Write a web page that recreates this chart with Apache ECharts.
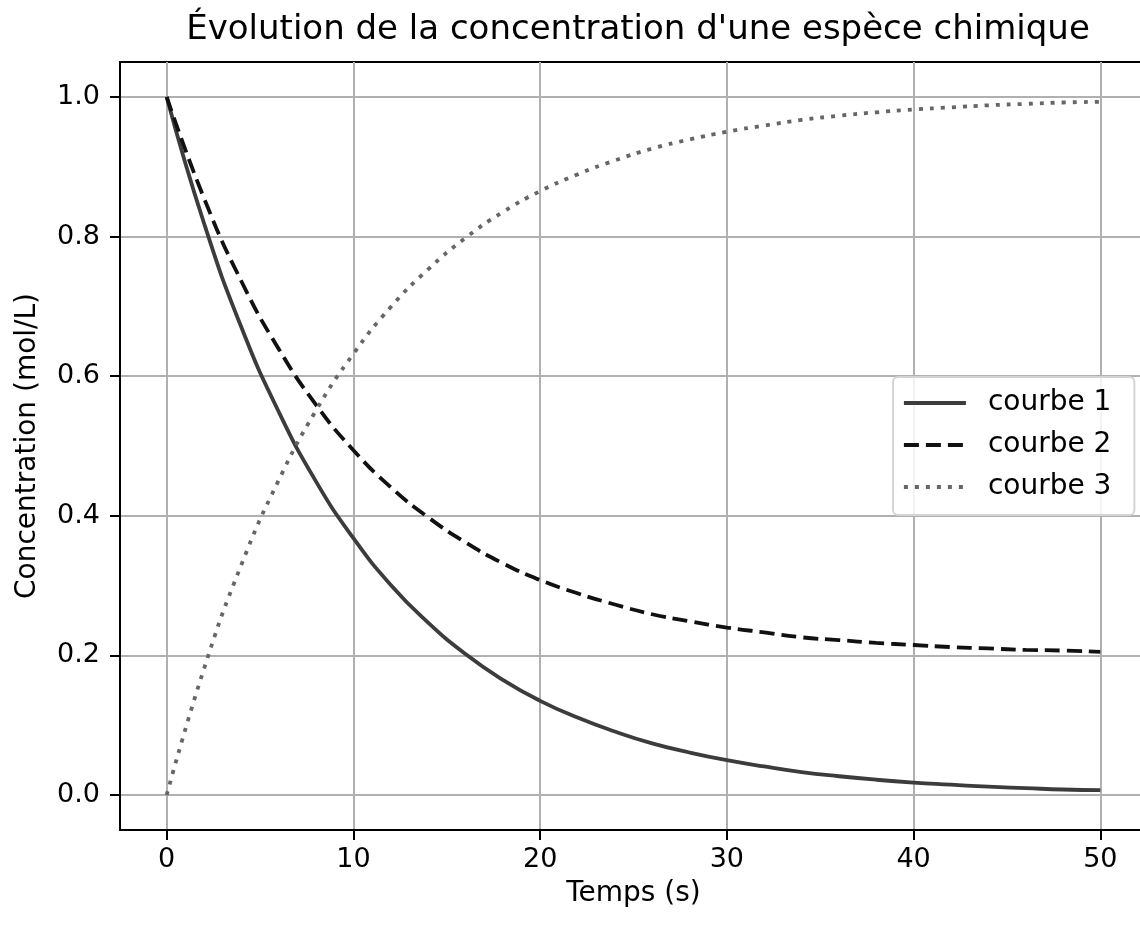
<!DOCTYPE html>
<html>
<head>
<meta charset="utf-8">
<script src="https://cdn.jsdelivr.net/npm/echarts@6/dist/echarts.min.js"></script>
<style>
  html, body { margin: 0; padding: 0; background: #fff; }
  #chart { width: 1140px; height: 925px; }
</style>
</head>
<body>
<div id="chart"></div>
<script>
// temps (s)
const temps = [0, 2, 4, 6, 8, 10, 12, 14, 16, 18, 20, 22, 24, 26, 28, 30, 32, 34, 36, 38, 40, 42, 44, 46, 48, 50]
// valeurs
const courbe1 = [1.0, 0.819, 0.670, 0.549, 0.449, 0.368, 0.301, 0.247, 0.202, 0.165, 0.135, 0.111, 0.091, 0.074, 0.061, 0.050, 0.041, 0.033, 0.027, 0.022, 0.018, 0.015, 0.012, 0.010, 0.008, 0.007]
const courbe2 = [1.0, 0.855, 0.736, 0.639, 0.559, 0.494, 0.441, 0.398, 0.362, 0.332, 0.308, 0.289, 0.273, 0.259, 0.249, 0.240, 0.233, 0.226, 0.222, 0.218, 0.215, 0.212, 0.210, 0.208, 0.207, 0.205]
const courbe3 = [0.0, 0.181, 0.330, 0.451, 0.551, 0.632, 0.699, 0.753, 0.798, 0.835, 0.865, 0.889, 0.909, 0.926, 0.939, 0.950, 0.959, 0.967, 0.973, 0.978, 0.982, 0.985, 0.988, 0.990, 0.992, 0.993]
const xTicks = [0, 10, 20, 30, 40, 50]
const yTicks = [0, 0.2, 0.4, 0.6, 0.8, 1.0]

const font = 'DejaVu Sans'
const fs = 28

const pairs = (ys) => temps.map((t, i) => [t, ys[i]])

const chart = echarts.init(document.getElementById('chart'))

const lineSerie = (name, ys, color, type) => ({
  name: name,
  type: 'line',
  data: pairs(ys),
  smooth: true,
  symbol: 'none',
  lineStyle: { color: color, width: 3.8, type: type },
  itemStyle: { color: color },
  z: 3,
})

chart.setOption({
  animation: false,
  backgroundColor: '#fff',
  title: {
    text: "Évolution de la concentration d'une espèce chimique",
    left: 633,
    top: 8,
    textAlign: 'center',
    textStyle: { fontFamily: font, fontSize: 34, fontWeight: 'normal', color: '#000' },
  },
  grid: {
    left: 120, top: 62, right: -7, bottom: 95,
    outerBoundsMode: 'none',
    show: true, borderColor: '#000', borderWidth: 2,
  },
  legend: {
    orient: 'vertical',
    left: 893,
    top: 377,
    padding: [12, 23, 14, 9],
    itemWidth: 62,
    itemHeight: 16,
    itemGap: 14,
    itemStyle: { opacity: 0 },
    lineStyle: { width: 3.8 },
    backgroundColor: 'rgba(255,255,255,0.85)',
    borderColor: '#d4d4d4',
    borderWidth: 2,
    borderRadius: 5,
    textStyle: { fontFamily: font, fontSize: fs, color: '#000', lineHeight: 28, padding: [0, 0, 0, 17] },
    data: ['courbe 1', 'courbe 2', 'courbe 3'],
  },
  xAxis: {
    type: 'value',
    min: -2.5,
    max: 52.5,
    name: 'Temps (s)',
    nameLocation: 'middle',
    nameGap: 50,
    nameTextStyle: { fontFamily: font, fontSize: fs, color: '#000' },
    axisLine: { onZero: false, lineStyle: { color: '#000', width: 2 } },
    axisTick: { customValues: xTicks, length: 10, lineStyle: { color: '#000', width: 2 } },
    axisLabel: { customValues: xTicks, margin: 16, fontFamily: font, fontSize: 27, color: '#000' },
    splitLine: { show: true, lineStyle: { color: '#b0b0b0', width: 2 } },
  },
  yAxis: {
    type: 'value',
    min: -0.05,
    max: 1.05,
    name: 'Concentration (mol/L)',
    nameLocation: 'middle',
    nameGap: 78,
    nameTextStyle: { fontFamily: font, fontSize: fs, color: '#000' },
    axisLine: { show: true, onZero: false, lineStyle: { color: '#000', width: 2 } },
    axisTick: { show: true, customValues: yTicks, length: 10, lineStyle: { color: '#000', width: 2 } },
    axisLabel: {
      customValues: yTicks, margin: 20, fontFamily: font, fontSize: 27, color: '#000',
      formatter: (v) => v.toFixed(1),
    },
    splitLine: { show: true, lineStyle: { color: '#b0b0b0', width: 2 } },
  },
  series: [
    lineSerie('courbe 1', courbe1, '#3c3c3c', 'solid'),
    lineSerie('courbe 2', courbe2, '#111111', [15, 7]),
    lineSerie('courbe 3', courbe3, '#666666', [4, 7]),
  ],
})
</script>
</body>
</html>
